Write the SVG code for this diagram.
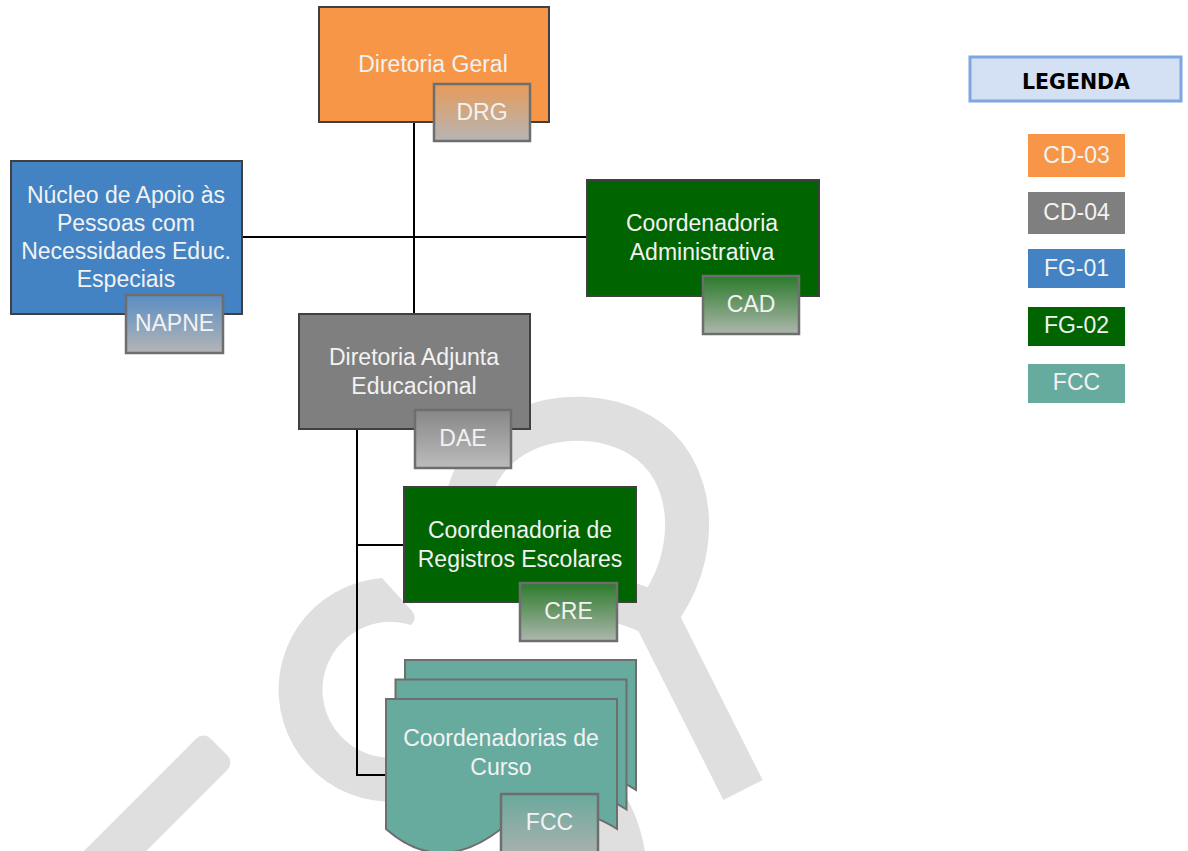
<svg xmlns="http://www.w3.org/2000/svg" width="1188" height="851" viewBox="0 0 1188 851">
<style>
.wm{fill:#DFDFDF}
.wms{fill:none;stroke:#DFDFDF;stroke-width:44}
.box{stroke:#404040;stroke-width:2}
.tag{stroke:#6E6E6E;stroke-width:2.5}
.page{fill:#67AB9F;stroke:#6E6E6E;stroke-width:2}
.t{font-family:"Liberation Sans",Arial,sans-serif;font-size:23px;fill:#F2F2F2;text-anchor:middle}
.conn{stroke:#000;stroke-width:2;fill:none}
.leg{font-family:"DejaVu Sans",Verdana,sans-serif;font-weight:bold;font-size:22px;fill:#000;text-anchor:middle}
</style>
<defs>
<linearGradient id="gDRG" x1="0" y1="0" x2="0" y2="1"><stop offset="0" stop-color="#E69B59"/><stop offset="1" stop-color="#B5B5B5"/></linearGradient>
<linearGradient id="gNAP" x1="0" y1="0" x2="0" y2="1"><stop offset="0" stop-color="#5A8DC4"/><stop offset="1" stop-color="#B5B5B5"/></linearGradient>
<linearGradient id="gGRN" x1="0" y1="0" x2="0" y2="1"><stop offset="0" stop-color="#2B7A2B"/><stop offset="1" stop-color="#ADB7AD"/></linearGradient>
<linearGradient id="gDAE" x1="0" y1="0" x2="0" y2="1"><stop offset="0" stop-color="#878787"/><stop offset="1" stop-color="#BCBCBC"/></linearGradient>
<linearGradient id="gFCC" x1="0" y1="0" x2="0" y2="1"><stop offset="0" stop-color="#6AA99D"/><stop offset="1" stop-color="#ABB1AF"/></linearGradient>
<path id="doc" d="M386,699 H617 V829 C580,805 540,805 501,829 C470,853 430,868 386,829 Z"/>
</defs>
<rect width="1188" height="851" fill="#FFFFFF"/>

<g id="watermark">
<path class="wms" d="M655,615 C700,560 700,470 640,435 C600,412 540,412 500,445 C470,470 455,520 470,555 C490,585 600,585 655,615"/>
<path class="wms" d="M655,615 L743,790"/>
<path class="wm" d="M411,625 Q418,618 412,611 L382,578 A112,112 0 1 0 446,787 L424,749 A68,68 0 1 1 411,625 Z"/>
<rect class="wm" x="0" y="-22" width="240" height="44" rx="10" transform="translate(219,747) rotate(135)"/>
<path class="wm" d="M605,770 Q636,800 645,851 L580,851 Z"/>
</g>

<g id="connectors">
<line class="conn" x1="414" y1="122" x2="414" y2="314"/>
<line class="conn" x1="242" y1="237" x2="587" y2="237"/>
<line class="conn" x1="357" y1="429" x2="357" y2="775"/>
<line class="conn" x1="356" y1="545" x2="404" y2="545"/>
<line class="conn" x1="356" y1="775" x2="386" y2="775"/>
</g>

<g id="drg">
<rect class="box" x="319" y="7" width="230" height="115" fill="#F79646"/>
<text class="t" x="433" y="72">Diretoria Geral</text>
<rect class="tag" x="434" y="84" width="96" height="57" fill="url(#gDRG)"/>
<text class="t" x="482" y="120">DRG</text>
</g>

<g id="napne">
<rect class="box" x="11" y="161" width="231" height="153" fill="#4383C4"/>
<text class="t" x="126" y="203">Núcleo de Apoio às</text>
<text class="t" x="126" y="231">Pessoas com</text>
<text class="t" x="126" y="259">Necessidades Educ.</text>
<text class="t" x="126" y="287">Especiais</text>
<rect class="tag" x="126" y="295" width="97" height="58" fill="url(#gNAP)"/>
<text class="t" x="174.5" y="331">NAPNE</text>
</g>

<g id="cad">
<rect class="box" x="587" y="180" width="232" height="116" fill="#006400"/>
<text class="t" x="702" y="231">Coordenadoria</text>
<text class="t" x="702" y="260">Administrativa</text>
<rect class="tag" x="703" y="276" width="96" height="58" fill="url(#gGRN)"/>
<text class="t" x="751" y="312">CAD</text>
</g>

<g id="dae">
<rect class="box" x="299" y="314" width="231" height="115" fill="#7F7F7F"/>
<text class="t" x="414" y="365">Diretoria Adjunta</text>
<text class="t" x="414" y="394">Educacional</text>
<rect class="tag" x="415" y="410" width="96" height="58" fill="url(#gDAE)"/>
<text class="t" x="463" y="446">DAE</text>
</g>

<g id="cre">
<rect class="box" x="404" y="487" width="232" height="115" fill="#006400"/>
<text class="t" x="520" y="538">Coordenadoria de</text>
<text class="t" x="520" y="567">Registros Escolares</text>
<rect class="tag" x="520" y="583" width="97" height="58" fill="url(#gGRN)"/>
<text class="t" x="568.5" y="619">CRE</text>
</g>

<g id="fcc">
<use href="#doc" class="page" transform="translate(19,-39)"/>
<use href="#doc" class="page" transform="translate(9.5,-19.5)"/>
<use href="#doc" class="page"/>
<text class="t" x="501" y="746">Coordenadorias de</text>
<text class="t" x="501" y="775">Curso</text>
<rect class="tag" x="501" y="794" width="97" height="62" fill="url(#gFCC)"/>
<text class="t" x="549.5" y="830">FCC</text>
</g>

<g id="legend">
<rect x="970" y="57" width="211" height="44" fill="#D4E1F5" stroke="#7EA6E0" stroke-width="3"/>
<text class="leg" x="1076" y="89" textLength="108" lengthAdjust="spacingAndGlyphs">LEGENDA</text>
<rect x="1028" y="134" width="97" height="43" fill="#F79646"/>
<text class="t" x="1076.5" y="163">CD-03</text>
<rect x="1028" y="192" width="97" height="42" fill="#7F7F7F"/>
<text class="t" x="1076.5" y="220">CD-04</text>
<rect x="1028" y="249" width="97" height="39" fill="#4383C4"/>
<text class="t" x="1076.5" y="276">FG-01</text>
<rect x="1028" y="307" width="97" height="39" fill="#006400"/>
<text class="t" x="1076.5" y="333">FG-02</text>
<rect x="1028" y="364" width="97" height="39" fill="#67AB9F"/>
<text class="t" x="1076.5" y="390">FCC</text>
</g>
</svg>
